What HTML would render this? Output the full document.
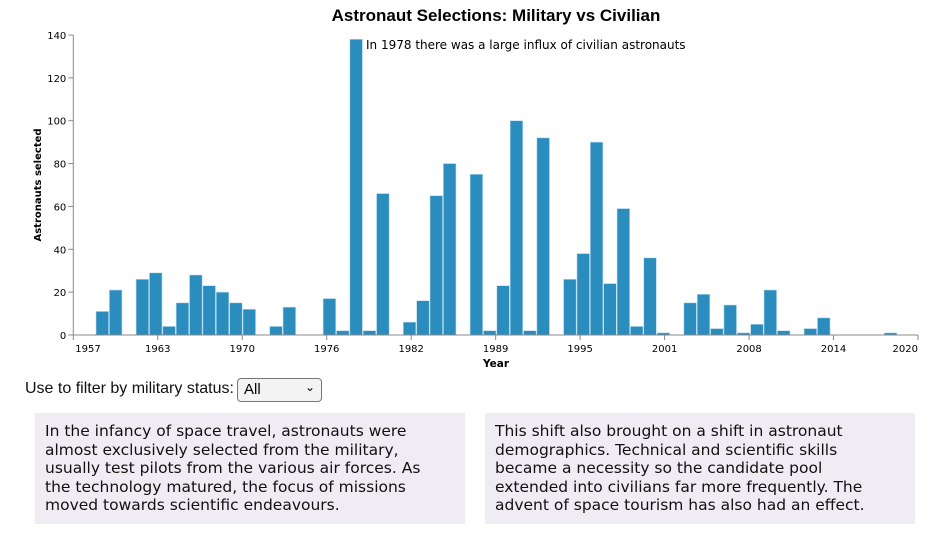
<!DOCTYPE html>
<html><head><meta charset="utf-8">
<style>
body{margin:0;width:940px;height:533px;background:#fff;font-family:"DejaVu Sans","Liberation Sans",sans-serif;position:relative;overflow:hidden}
#chart{position:absolute;left:0;top:0}
.filter{position:absolute;left:25px;top:380px;font-family:"Liberation Sans",sans-serif;font-size:16px;color:#111}
.sel{position:absolute;left:237px;top:378px;width:85px;height:24px;box-sizing:border-box;border:1px solid #777;border-radius:4px;background:#f3f3f3;font-family:"Liberation Sans",sans-serif;font-size:15px;padding:2px 0 0 6px}
.sel span.chev{position:absolute;right:6px;top:1px;font-size:12px}
.box{position:absolute;top:413px;width:430px;height:111px;background:#efedf3;box-sizing:border-box;padding:9px 20px 0 10px;font-size:15.5px;line-height:18.6px;color:#111}
</style></head><body>
<svg id="chart" width="940" height="375" xmlns="http://www.w3.org/2000/svg">
<text x="496" y="21" text-anchor="middle" font-family="Liberation Sans, sans-serif" font-weight="bold" font-size="17">Astronaut Selections: Military vs Civilian</text>
<g id="bars"></g>
<g id="yaxis"></g>
<g id="xaxis"></g>
<text transform="translate(41,185) rotate(-90)" text-anchor="middle" font-size="10" font-weight="bold">Astronauts selected</text>
<text x="496" y="367" text-anchor="middle" font-size="10.5" font-weight="bold">Year</text>
<text x="366" y="49" font-size="12">In 1978 there was a large influx of civilian astronauts</text>
</svg>
<div class="filter">Use to filter by military status:</div>
<div class="sel">All<span class="chev">&#8964;</span></div>
<div class="box" style="left:35px">In the infancy of space travel, astronauts were almost exclusively selected from the military, usually test pilots from the various air forces. As the technology matured, the focus of missions moved towards scientific endeavours.</div>
<div class="box" style="left:485px">This shift also brought on a shift in astronaut demographics. Technical and scientific skills became a necessity so the candidate pool extended into civilians far more frequently. The advent of space tourism has also had an effect.</div>
<script>
const counts=[11,21,0,26,29,4,15,28,23,20,15,12,0,4,13,0,0,17,2,138,2,66,0,6,16,65,80,0,75,2,23,100,2,92,0,26,38,90,24,59,4,36,1,0,15,19,3,14,1,5,21,2,0,3,8,0,0,0,0,1];
const yTicks=[0,20,40,60,80,100,120,140];
const xTickLabels=["1957","1963","1970","1976","1982","1989","1995","2001","2008","2014","2020"];
const NS="http://www.w3.org/2000/svg";
const x0=73.3,x1=918,y0=335,y1=35;
function yScale(v){return y0-(v/140)*(y0-y1);}
function binX(i){return 96+i*13.36;}
function tickX(i){return x0+i*(x1-x0)/(xTickLabels.length-1);}
function mk(t,a,p){const e=document.createElementNS(NS,t);for(const k in a)e.setAttribute(k,a[k]);p.appendChild(e);return e;}
const bars=document.getElementById('bars');
counts.forEach((v,i)=>{if(v<=0)return;
const r=mk('rect',{x:binX(i),y:yScale(v),width:12.6,height:y0-yScale(v),fill:'#2b8cbe',stroke:'#b9dcef','stroke-width':0.6},bars);

});
const ya=document.getElementById('yaxis');
const yl=mk('line',{x1:x0,y1:y1,x2:x0,y2:y0,stroke:'#888'},ya);


yTicks.forEach(t=>{mk('line',{x1:x0-5,x2:x0,y1:yScale(t),y2:yScale(t),stroke:'#888'},ya);
const tx=mk('text',{x:x0-7,y:yScale(t)+4,'text-anchor':'end','font-size':'10'},ya);tx.textContent=t;

});
const xa=document.getElementById('xaxis');
const xl=mk('line',{x1:x0,y1:y0,x2:x1,y2:y0,stroke:'#888'},xa);


const nX=xTickLabels.length;
xTickLabels.forEach((l,i)=>{mk('line',{x1:tickX(i),x2:tickX(i),y1:y0,y2:y0+5,stroke:'#888'},xa);
const anchor=i===0?'start':(i===nX-1?'end':'middle');
const tx=mk('text',{x:tickX(i)+(i===0?2:0),y:y0+17,'text-anchor':anchor,'font-size':'10'},xa);tx.textContent=l;

});
</script>
</body></html>
